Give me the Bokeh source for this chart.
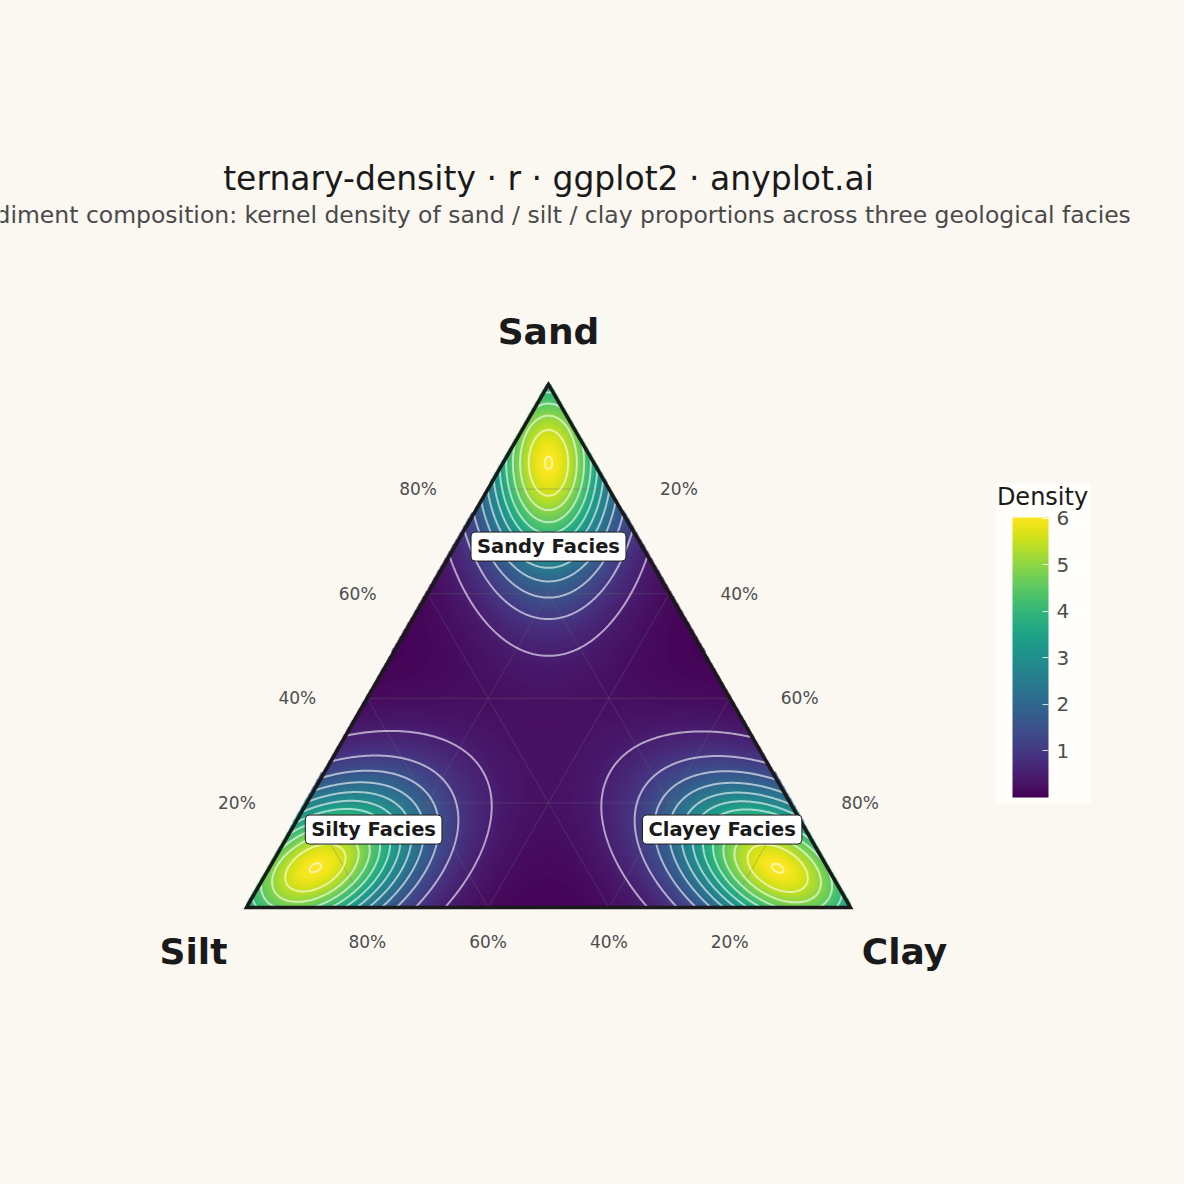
import numpy as np
from bokeh.plotting import figure
from bokeh.models import (Range1d, LinearColorMapper, ColorBar, FixedTicker, Label,
                          BoxAnnotation)
from bokeh.palettes import Viridis256
from bokeh.embed import file_html
from bokeh.resources import INLINE
from bokeh.core.properties import value

# ---------------- data ----------------
facies = ["Sandy Facies", "Silty Facies", "Clayey Facies"]
peak_sand = [85.0, 7.6, 7.5]
peak_clay = [7.5, 7.6, 84.2]
peak_density = [6.02, 6.02, 6.02]
core_spread = [11.6, 11.6, 11.6]      # spread along elongation axis (% of side)
halo_spread = [17.9, 17.9, 17.9]
core_share = [0.7, 0.7, 0.7]
across_ratio = [0.6, 0.6, 0.6]
elongation_deg = [90.0, 30.0, 150.0]
label_sand = [69.0, 14.9, 14.9]
label_clay = [15.5, 13.6, 71.3]
vertex_names = ["Sand", "Silt", "Clay"]
tick_values = [20, 40, 60, 80]
tick_labels = ["20%", "40%", "60%", "80%"]
contour_levels = [0.5, 1.0, 1.5, 2.0, 2.5, 3.0, 3.5, 4.0, 4.5, 5.0, 5.5, 6.0]
colorbar_ticks = [1, 2, 3, 4, 5, 6]
density_range = [0.0, 6.02]

TITLE = "ternary-density · r · ggplot2 · anyplot.ai"
SUBTITLE = ("Sediment composition: kernel density of sand / silt / clay proportions "
            "across three geological facies")

BG = "#FAF8F1"
INK = "#1A1A1A"
H = np.sqrt(3) / 2


def tern(sand, clay):
    sand = np.asarray(sand, dtype=float) / 100.0
    clay = np.asarray(clay, dtype=float) / 100.0
    return clay + sand / 2.0, sand * H


# ---------------- density field ----------------
nx, ny = 600, 520
xs = np.linspace(0, 1, nx)
ys = np.linspace(0, H, ny)
X, Y = np.meshgrid(xs, ys)
Z = np.zeros_like(X)
for s, c, pk, cs, hs, sh, ar, ang in zip(peak_sand, peak_clay, peak_density, core_spread,
                                         halo_spread, core_share, across_ratio, elongation_deg):
    cx, cy = tern(s, c)
    th = np.deg2rad(ang)
    dx, dy = X - cx, Y - cy
    u = dx * np.cos(th) + dy * np.sin(th)
    v = -dx * np.sin(th) + dy * np.cos(th)
    s1, s2 = cs / 100.0, hs / 100.0
    g1 = np.exp(-0.5 * ((u / s1) ** 2 + (v / (s1 * ar)) ** 2))
    g2 = np.exp(-0.5 * ((u / s2) ** 2 + (v / (s2 * ar)) ** 2))
    Z += pk * (sh * g1 + (1 - sh) * g2)

eps = 0.004
inside_img = (Y >= -eps) & (Y <= np.sqrt(3) * X + eps * 2) & (Y <= np.sqrt(3) * (1 - X) + eps * 2)
inside = (Y >= 0) & (Y <= np.sqrt(3) * X) & (Y <= np.sqrt(3) * (1 - X))
Zimg = np.where(inside_img, Z, np.nan).astype(np.float32)
Zc = np.where(inside, Z, np.nan)

mapper = LinearColorMapper(palette=Viridis256, low=density_range[0], high=density_range[1],
                           nan_color=(0, 0, 0, 0))

# ---------------- figure ----------------
W = Hh = 1184
S = 604.0
x0, y0 = -246 / S, -(Hh - 907) / S
p = figure(width=W, height=Hh, output_backend="svg", toolbar_location=None,
           x_range=Range1d(x0, x0 + W / S), y_range=Range1d(y0, y0 + Hh / S),
           x_axis_location=None, y_axis_location=None, min_border=0,
           background_fill_color=BG, border_fill_color=BG, outline_line_color=None)
p.grid.visible = False

p.image(image=[Zimg], x=0, y=0, dw=1, dh=H, color_mapper=mapper)

# grid lines
gx, gy = [], []
for f in tick_values:
    for (sa, ca), (sb, cb) in [((f, 0), (f, 100 - f)),
                               ((0, f), (100 - f, f)),
                               ((0, 100 - f), (100 - f, 0))]:
        xa, ya = tern(sa, ca)
        xb, yb = tern(sb, cb)
        gx.append([float(xa), float(xb)])
        gy.append([float(ya), float(yb)])
p.multi_line(xs=gx, ys=gy, line_color="#6B6B6B", line_alpha=0.35, line_width=1)

# contours
p.contour(x=xs, y=ys, z=Zc, levels=contour_levels, line_color="white",
          line_alpha=0.6, line_width=2)

# triangle border
tx, ty = tern([100, 0, 0], [0, 0, 100])
p.patch(x=list(tx), y=list(ty), fill_color=None, line_color=INK, line_width=3.5,
        line_join="miter")

# vertex labels
p.text(x=list(tx), y=list(ty), text=vertex_names, x_offset=[0, -53, 54],
       y_offset=[-53, 44, 44], text_align="center", text_baseline="middle",
       text_font=value("DejaVu Sans"), text_font_size="36px", text_font_style="bold",
       text_color=INK)

# tick labels
tick_style = dict(text_align="center", text_baseline="middle",
                  text_font=value("DejaVu Sans"), text_font_size="17px", text_color="#4D4D4D")
lx, ly = tern(tick_values, [0] * 4)                               # sand, left edge
p.text(x=list(lx), y=list(ly), text=tick_labels, x_offset=-70, **tick_style)
rx, ry = tern([100 - t for t in tick_values], tick_values)        # clay, right edge
p.text(x=list(rx), y=list(ry), text=tick_labels, x_offset=70, **tick_style)
bx, by = tern([0] * 4, [100 - t for t in tick_values])            # silt, bottom edge
p.text(x=list(bx), y=list(by), text=tick_labels, y_offset=34, **tick_style)

# facies labels
fx, fy = tern(label_sand, label_clay)
for name, xx, yy in zip(facies, fx, fy):
    p.add_layout(Label(x=float(xx), y=float(yy), text=name, text_align="center",
                       text_baseline="middle", text_font="DejaVu Sans",
                       text_font_size="19.5px", text_font_style="bold", text_color=INK,
                       background_fill_color="white", border_line_color=INK,
                       border_line_width=1, padding=(6, 3), border_radius=4))

# title / subtitle
p.add_layout(Label(x=548, y=Hh - 178, x_units="screen", y_units="screen", text=TITLE,
                   text_align="center", text_baseline="middle", text_font="DejaVu Sans",
                   text_font_size="33px", text_color=INK))
p.add_layout(Label(x=548, y=Hh - 214, x_units="screen", y_units="screen", text=SUBTITLE,
                   text_align="center", text_baseline="middle", text_font="DejaVu Sans",
                   text_font_size="23.5px", text_color="#4A4A4A"))

# colour bar
p.add_layout(BoxAnnotation(left=995, right=1090, bottom=Hh - 803, top=Hh - 483,
                           left_units="screen", right_units="screen", bottom_units="screen",
                           top_units="screen", fill_color="#FFFEFB", fill_alpha=1.0,
                           line_color=None))
p.add_layout(Label(x=1042, y=Hh - 496, x_units="screen", y_units="screen", text="Density",
                   text_align="center", text_baseline="middle", text_font="DejaVu Sans",
                   text_font_size="24px", text_color=INK))
cb = ColorBar(color_mapper=mapper, ticker=FixedTicker(ticks=colorbar_ticks), width=36,
              height=280, location=(1012, Hh - 797), padding=0, margin=0,
              background_fill_color=None, border_line_color=None, bar_line_color=None,
              major_label_text_font_size="20px", major_label_text_color="#4D4D4D",
              major_label_text_font="DejaVu Sans", label_standoff=8,
              major_tick_line_color="white", major_tick_line_alpha=0.8,
              major_tick_in=6, major_tick_out=0, minor_tick_line_color=None)
p.add_layout(cb)

open("out.html", "w").write(file_html(p, INLINE))
